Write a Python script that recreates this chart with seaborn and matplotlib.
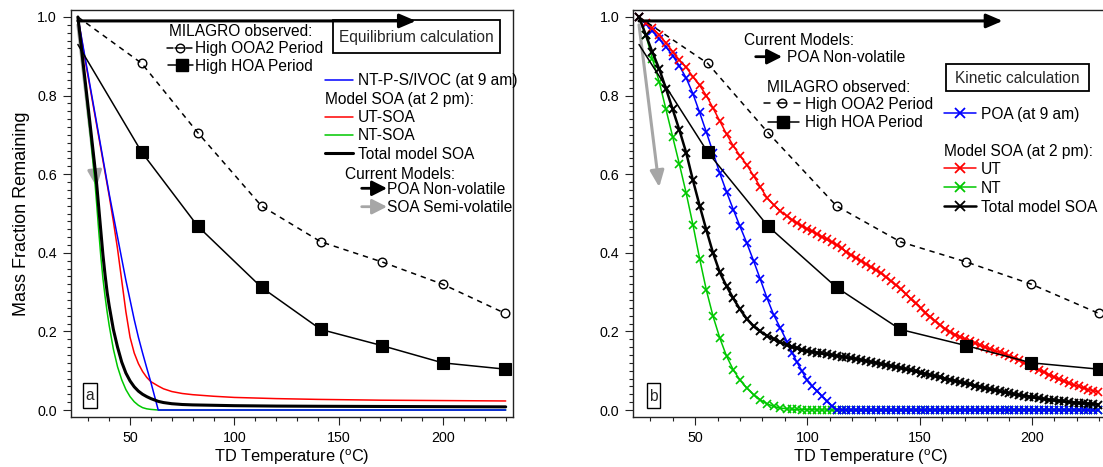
import matplotlib
matplotlib.use("Agg")
import matplotlib.pyplot as plt
import seaborn as sns
from matplotlib.lines import Line2D
from matplotlib.patches import Rectangle, FancyArrowPatch
from matplotlib.ticker import MultipleLocator, FormatStrFormatter

# ---------------- data ----------------
T_obs = [25, 55.6, 82.4, 113.0, 141.4, 170.6, 199.8, 229.7]
ooa2_obs = [1.00, 0.882, 0.706, 0.519, 0.428, 0.377, 0.320, 0.246]
hoa_obs = [0.93, 0.656, 0.468, 0.312, 0.205, 0.164, 0.120, 0.104]

# panel a: equilibrium calculation
T_eq = [25, 28, 31, 33, 34, 35, 36, 37, 38, 39, 40, 42, 44, 46, 48, 50, 52, 54,
        56, 58, 60, 63.5, 66, 70, 75, 80, 90, 100, 120, 140, 170, 200, 230]
eq_nt_psivoc = [1.0, 0.91, 0.82, 0.76, 0.73, 0.70, 0.67, 0.64, 0.61, 0.58, 0.55,
                0.495, 0.44, 0.385, 0.33, 0.28, 0.23, 0.185, 0.145, 0.107, 0.07,
                0.0, 0.0, 0.0, 0.0, 0.0, 0.0, 0.0, 0.0, 0.0, 0.0, 0.0, 0.0]
eq_ut_soa = [1.0, 0.905, 0.815, 0.755, 0.725, 0.695, 0.665, 0.635, 0.605, 0.575,
             0.545, 0.48, 0.41, 0.33, 0.25, 0.185, 0.145, 0.118, 0.098, 0.083,
             0.072, 0.061, 0.054, 0.047, 0.042, 0.039, 0.035, 0.032, 0.029,
             0.027, 0.025, 0.024, 0.023]
eq_nt_soa = [1.0, 0.85, 0.70, 0.59, 0.525, 0.455, 0.39, 0.335, 0.29, 0.25, 0.215,
             0.155, 0.11, 0.077, 0.052, 0.034, 0.021, 0.012, 0.006, 0.003, 0.0015,
             0.0, 0.0, 0.0, 0.0, 0.0, 0.0, 0.0, 0.0, 0.0, 0.0, 0.0, 0.0]
eq_total_soa = [1.0, 0.86, 0.72, 0.625, 0.575, 0.515, 0.455, 0.395, 0.345, 0.30,
                0.265, 0.205, 0.16, 0.122, 0.094, 0.074, 0.059, 0.048, 0.040,
                0.034, 0.029, 0.022, 0.019, 0.016, 0.014, 0.013, 0.012, 0.011,
                0.010, 0.0095, 0.009, 0.0085, 0.008]

# panel b: kinetic calculation
T_kin = [25, 28, 31, 34, 37, 40, 43, 46, 49, 52, 55, 58, 61, 64, 67, 70, 73, 76,
         79, 82, 85, 88, 91,
         93.2, 95.4, 97.6, 99.8, 102, 104.2, 106.4, 108.6, 110.8, 113,
         115.2, 117.4, 119.6, 121.8, 124, 126.2, 128.4, 130.6, 132.8, 135,
         137.2, 139.4, 141.6, 143.8, 146, 148.2, 150.4, 152.6, 154.8, 157,
         159.2, 161.4, 163.6, 165.8, 168, 170.2, 172.4, 174.6, 176.8, 179,
         181.2, 183.4, 185.6, 187.8, 190, 192.2, 194.4, 196.6, 198.8, 201,
         203.2, 205.4, 207.6, 209.8, 212, 214.2, 216.4, 218.6, 220.8, 223,
         225.2, 227.4, 229.6]
kin_poa = [1.0, 0.982, 0.965, 0.945, 0.924, 0.902, 0.875, 0.845, 0.805, 0.757,
           0.707, 0.655, 0.602, 0.555, 0.51, 0.467, 0.425, 0.38, 0.333, 0.285,
           0.242, 0.208, 0.173,
           0.146, 0.121, 0.099, 0.076, 0.062, 0.049, 0.035, 0.022, 0.010, 0.001,
           0, 0, 0, 0, 0, 0, 0, 0, 0, 0,
           0, 0, 0, 0, 0, 0, 0, 0, 0, 0,
           0, 0, 0, 0, 0, 0, 0, 0, 0, 0,
           0, 0, 0, 0, 0, 0, 0, 0, 0, 0,
           0, 0, 0, 0, 0, 0, 0, 0, 0, 0,
           0, 0, 0]
kin_ut = [1.0, 0.985, 0.971, 0.955, 0.934, 0.912, 0.89, 0.872, 0.848, 0.826,
          0.80, 0.768, 0.735, 0.702, 0.672, 0.647, 0.624, 0.596, 0.568, 0.540,
          0.522, 0.506, 0.493,
          0.484, 0.476, 0.468, 0.461, 0.455, 0.448, 0.441, 0.434, 0.427, 0.42,
          0.411, 0.402, 0.394, 0.387, 0.379, 0.371, 0.363, 0.356, 0.348, 0.338,
          0.328, 0.318, 0.307, 0.295, 0.283, 0.271, 0.259, 0.248, 0.237, 0.226,
          0.216, 0.207, 0.199, 0.192, 0.186, 0.180, 0.175, 0.170, 0.165, 0.160,
          0.155, 0.151, 0.147, 0.143, 0.137, 0.132, 0.126, 0.120, 0.114, 0.108,
          0.102, 0.096, 0.090, 0.084, 0.078, 0.073, 0.068, 0.064, 0.060, 0.056,
          0.052, 0.049, 0.046]
kin_nt = [1.0, 0.955, 0.893, 0.835, 0.765, 0.695, 0.625, 0.552, 0.472, 0.385,
          0.305, 0.238, 0.183, 0.137, 0.102, 0.076, 0.056, 0.039, 0.026, 0.016,
          0.009, 0.005, 0.003,
          0.002, 0.0015, 0.001, 0.0007, 0.0005, 0.0003, 0.0002, 0.0001, 0, 0,
          0, 0, 0, 0, 0, 0, 0, 0, 0, 0,
          0, 0, 0, 0, 0, 0, 0, 0, 0, 0,
          0, 0, 0, 0, 0, 0, 0, 0, 0, 0,
          0, 0, 0, 0, 0, 0, 0, 0, 0, 0,
          0, 0, 0, 0, 0, 0, 0, 0, 0, 0,
          0, 0, 0]
kin_total = [1.0, 0.955, 0.91, 0.868, 0.818, 0.765, 0.712, 0.655, 0.585, 0.52,
             0.458, 0.399, 0.35, 0.315, 0.284, 0.256, 0.232, 0.213, 0.200, 0.189,
             0.18, 0.172, 0.165,
             0.161, 0.157, 0.153, 0.150, 0.148, 0.146, 0.144, 0.142, 0.140, 0.138,
             0.136, 0.134, 0.132, 0.130, 0.127, 0.125, 0.122, 0.120, 0.117, 0.115,
             0.112, 0.110, 0.107, 0.104, 0.101, 0.098, 0.095, 0.092, 0.089, 0.086,
             0.083, 0.080, 0.077, 0.074, 0.071, 0.068, 0.065, 0.062, 0.059, 0.056,
             0.053, 0.051, 0.048, 0.045, 0.043, 0.040, 0.038, 0.036, 0.034, 0.032,
             0.030, 0.028, 0.026, 0.025, 0.023, 0.022, 0.020, 0.019, 0.018, 0.017,
             0.016, 0.015, 0.014]

xticks = [50, 100, 150, 200]
yticks = [0.0, 0.2, 0.4, 0.6, 0.8, 1.0]
ylabel = "Mass Fraction Remaining"
xlabel = "TD Temperature ($^{\\mathrm{o}}$C)"

# ---------------- style ----------------
W, H = 1103, 467
sns.set_theme(style="ticks")
plt.rcParams['font.family'] = ['Liberation Sans', 'DejaVu Sans']
plt.rcParams['mathtext.fontset'] = 'custom'
plt.rcParams['mathtext.rm'] = 'Liberation Sans'
plt.rcParams['mathtext.it'] = 'Liberation Sans:italic'
plt.rcParams['mathtext.bf'] = 'Liberation Sans:bold'

BLUE, RED, GREEN, GRAY = '#0000FF', '#FF0000', '#00C800', '#A6A6A6'
FS = 11.2

fig = plt.figure(figsize=(W / 100, H / 100), dpi=100)
fig.patch.set_facecolor('white')
ax1 = fig.add_axes([71 / W, 50 / H, 442 / W, 407 / H])
ax2 = fig.add_axes([633.4 / W, 50 / H, 473.7 / W, 407 / H])


def style_axes(ax, xlim):
    ax.set_xlim(*xlim)
    ax.set_ylim(-0.0178, 1.0178)
    ax.set_xticks(xticks)
    ax.set_yticks(yticks)
    ax.yaxis.set_major_formatter(FormatStrFormatter('%.1f'))
    ax.xaxis.set_minor_locator(MultipleLocator(10))
    ax.yaxis.set_minor_locator(MultipleLocator(0.02))
    ax.tick_params(which='major', length=6, width=0.8, direction='out',
                   labelsize=10.3, pad=4, color='#222222', labelcolor='black')
    ax.tick_params(which='minor', length=3, width=0.8, direction='out',
                   color='#222222')
    for s in ax.spines.values():
        s.set_visible(True)
        s.set_color('#222222')
        s.set_linewidth(1.0)
    ax.set_facecolor('white')
    ax.grid(False)
    ax.set_xlabel(xlabel, fontsize=11.8, color='black')
    ax.xaxis.label.set_va('baseline')
    ax.xaxis.set_label_coords(0.5, (417 - 462) / 407)
    ax.set_ylabel('')


def plot_obs(ax):
    sns.lineplot(x=T_obs, y=ooa2_obs, ax=ax, color='black', linewidth=1.1,
                 linestyle=(0, (3.5, 3.2)), marker='o', markersize=6.2,
                 markerfacecolor='none', markeredgecolor='black',
                 markeredgewidth=1.0, markevery=list(range(1, len(T_obs))),
                 estimator=None, sort=False, legend=False, zorder=6)
    sns.lineplot(x=T_obs, y=hoa_obs, ax=ax, color='black', linewidth=1.1,
                 marker='s', markersize=8.3, markerfacecolor='black',
                 markeredgecolor='black', markeredgewidth=0.8,
                 markevery=list(range(1, len(T_obs))),
                 estimator=None, sort=False, legend=False, zorder=6)


AST = '-|>,head_length=0.7,head_width=0.3'


def model_arrows(ax, gray_z):
    ax.annotate('', xy=(187, 0.99), xytext=(25, 0.99), annotation_clip=False,
                arrowprops=dict(arrowstyle=AST, color='black', lw=2.2,
                                shrinkA=0, shrinkB=0, mutation_scale=14),
                zorder=9)
    ax.annotate('', xy=(34, 0.567), xytext=(25, 0.98), annotation_clip=False,
                arrowprops=dict(arrowstyle=AST, color=GRAY, lw=2.2,
                                shrinkA=0, shrinkB=0, mutation_scale=14),
                zorder=gray_z)


# ---------------- panel a ----------------
style_axes(ax1, (21.7, 233.5))
model_arrows(ax1, 1.5)
for yv, col, lw in [(eq_nt_soa, GREEN, 1.1), (eq_ut_soa, RED, 1.1),
                    (eq_nt_psivoc, BLUE, 1.1), (eq_total_soa, 'black', 2.2)]:
    sns.lineplot(x=T_eq, y=yv, ax=ax1, color=col, linewidth=lw,
                 estimator=None, sort=False, legend=False, zorder=3)
plot_obs(ax1)
ax1.set_ylabel(ylabel, fontsize=13, color='black')
ax1.yaxis.set_label_coords((30 - 71) / 442, 0.5)

# ---------------- panel b ----------------
style_axes(ax2, (22.5, 233.5))
model_arrows(ax2, 1.5)
for yv, col, lw, mew in [(kin_nt, GREEN, 1.1, 1.2), (kin_poa, BLUE, 1.1, 1.2),
                         (kin_ut, RED, 1.1, 1.2), (kin_total, 'black', 1.8, 1.4)]:
    sns.lineplot(x=T_kin, y=yv, ax=ax2, color=col, linewidth=lw, marker='x',
                 markersize=5.5, markeredgewidth=mew, markeredgecolor=col,
                 estimator=None, sort=False, legend=False, zorder=3)
plot_obs(ax2)


# ---------------- annotation helpers (pixel coordinates) ----------------
def P(x, y):
    return (x / W, 1 - y / H)


def ftext(x, y, s, ha='left', **kw):
    fig.text(x / W, 1 - y / H, s, fontsize=FS, ha=ha, va='baseline',
             color='black', **kw)


def seg(x0, x1, y, color='black', lw=1.1, **kw):
    fig.add_artist(Line2D([x0 / W, x1 / W], [1 - y / H, 1 - y / H],
                          transform=fig.transFigure, color=color, lw=lw, **kw))


def mark(x, y, marker, color='black', **kw):
    fig.add_artist(Line2D([x / W], [1 - y / H], transform=fig.transFigure,
                          marker=marker, color=color, linestyle='none', **kw))


def farrow(x0, x1, y, color):
    fig.add_artist(FancyArrowPatch(P(x0, y), P(x1, y), transform=fig.transFigure,
                                   arrowstyle='-|>,head_length=0.75,head_width=0.38',
                                   mutation_scale=12, lw=2.0, color=color,
                                   shrinkA=0, shrinkB=0))


def box(ax, x0, x1, y0, y1, label, tx, ty, lw=1.3):
    # drawn inside the axes (so the model arrow can pass over it)
    ax.add_artist(Rectangle((x0 / W, 1 - y1 / H), (x1 - x0) / W, (y1 - y0) / H,
                            transform=fig.transFigure, facecolor='white',
                            edgecolor='black', lw=lw, zorder=7, clip_on=False))
    ax.text(tx / W, 1 - ty / H, label, transform=fig.transFigure, fontsize=FS,
            ha='center', va='baseline', zorder=7.5, clip_on=False)


def ooa2_sample(x0, xc, x1, y):
    seg(x0, x0 + 6, y)
    seg(xc - 4.5, xc + 4.5, y)
    seg(x1 - 6, x1, y)
    mark(xc, y, 'o', markersize=6.2, markerfacecolor='none',
         markeredgecolor='black', markeredgewidth=1.0)


def hoa_sample(x0, xc, x1, y):
    seg(x0, x1, y)
    mark(xc, y, 's', markersize=8.3, markerfacecolor='black',
         markeredgecolor='black')


# ---- panel a legend ----
ftext(169, 35.5, "MILAGRO observed:")
ooa2_sample(167, 179.5, 192, 47.5)
ftext(195, 53, "High OOA2 Period")
hoa_sample(168, 181.7, 193, 65)
ftext(195, 70.5, "High HOA Period")
box(ax1, 333, 500, 20, 53, "Equilibrium calculation", 416.5, 42)
seg(325, 353, 80, color=BLUE)
ftext(358, 85.5, "NT-P-S/IVOC (at 9 am)")
ftext(325, 104, "Model SOA (at 2 pm):")
seg(325, 353, 116.7, color=RED)
ftext(358, 122, "UT-SOA")
seg(325, 353, 135, color=GREEN)
ftext(358, 140.5, "NT-SOA")
seg(325, 353, 153.3, color='black', lw=2.2)
ftext(358, 159, "Total model SOA")
ftext(345, 179, "Current Models:")
farrow(361.7, 387, 188.3, 'black')
ftext(386.7, 194, "POA Non-volatile")
farrow(361.7, 387, 206.7, GRAY)
ftext(386.7, 212, "SOA Semi-volatile")
box(ax1, 83.3, 96.7, 383, 408, "a", 90, 400, lw=1.0)

# ---- panel b legend ----
ftext(743.5, 45, "Current Models:")
farrow(755.7, 782, 56.7, 'black')
ftext(786.8, 62, "POA Non-volatile")
ftext(767, 91.5, "MILAGRO observed:")
ooa2_sample(764, 781.6, 800, 103.3)
ftext(804.8, 109, "High OOA2 Period")
hoa_sample(767.8, 783.4, 799, 121.7)
ftext(804.8, 127, "High HOA Period")
box(ax2, 946, 1089, 64, 91, "Kinetic calculation", 1017.5, 83)
for yy, col, lw, txt, base in [(113.3, BLUE, 1.1, "POA (at 9 am)", 119),
                               (168.3, RED, 1.1, "UT", 174),
                               (187.3, GREEN, 1.1, "NT", 193),
                               (206, 'black', 1.8, "Total model SOA", 211.5)]:
    seg(944, 975.6, yy, color=col, lw=lw)
    mark(959.8, yy, 'x', color=col, markersize=7, markeredgewidth=1.3)
    ftext(980.8, base, txt)
ftext(943.7, 155.5, "Model SOA (at 2 pm):")
box(ax2, 646.6, 660.4, 383, 408, "b", 653.5, 401, lw=1.0)

fig.savefig('out.png', dpi=100, facecolor='white')
